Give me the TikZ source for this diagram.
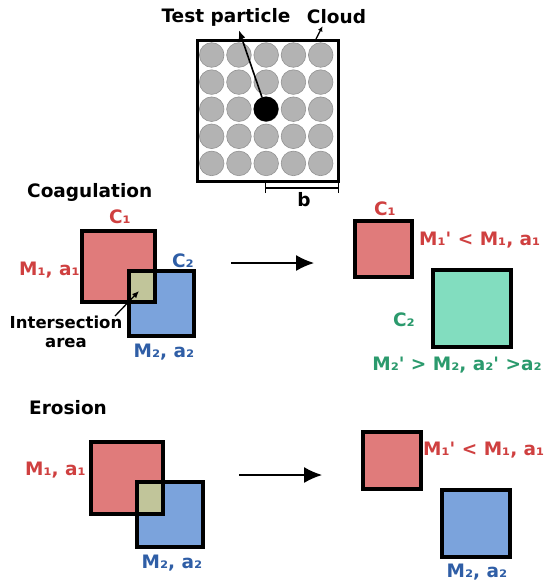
\documentclass[tikz,border=0pt]{standalone}
\usepackage{fontspec}
\newfontfamily\labfont{DejaVu Sans}
\usetikzlibrary{arrows.meta}
\definecolor{redfill}{HTML}{E07B7B}
\definecolor{redtext}{HTML}{CF4040}
\definecolor{bluefill}{HTML}{7BA3DC}
\definecolor{bluetext}{HTML}{2F5EA6}
\definecolor{greenfill}{HTML}{82DDBF}
\definecolor{greentext}{HTML}{2B9A6D}
\definecolor{olivefill}{HTML}{C1C59A}
\definecolor{dotgray}{HTML}{B3B3B3}
\tikzset{
  lbl/.style={font=\labfont\bfseries\fontsize{18.5}{20}\selectfont, inner sep=0pt},
  sqr/.style={rectangle, inner sep=0pt, outer sep=0pt},
  outline/.style={line width=3.2pt, black},
  bigarrow/.style={line width=1.3pt, -{Latex[length=18pt,width=16pt]}},
}

\begin{document}
\begin{tikzpicture}[x=1pt,y=-1pt]
    \useasboundingbox (0,0) rectangle (546,582);
    %cloud with the test particle
    \foreach \i in {0,...,4}
      \foreach \j in {0,...,4}
        \filldraw[fill=dotgray,draw=gray!85,line width=0.6pt] (211.7+27.25*\i,55+27.1*\j) circle[radius=12.3pt];
    \node[circle, fill=black, minimum size=25pt, inner sep=0pt] (part) at (266,109) {};
    \node[sqr, draw, line width=3pt, minimum width=141pt, minimum height=141pt] (cloud) at (267.5,110.5) {};
    \node[lbl] (tp) at (226,17) {Test particle};
    \node[lbl] (cl) at (336.5,17) {Cloud};
    \coordinate (ctop) at (316,39);
    \draw[line width=1.6pt, -{Latex[length=9pt,width=7pt]}] (part) -- ([xshift=13pt,yshift=-4pt]tp.south);
    \draw[line width=1.3pt, -{Latex[length=5pt,width=5pt]}] (ctop) -- ([xshift=-14pt,yshift=-2pt]cl.south);
    \coordinate (bl) at (265,188);
    \coordinate (br) at (339,188);
    \draw[line width=1.3pt, {Bar[width=10pt]}-{Bar[width=10pt]}] (bl) -- (br);
    \node[lbl] (b) at (304,200) {b};

    %coagulation
    \node[lbl, anchor=west] (coag) at (27,192) {Coagulation};
    \node[sqr, fill=redfill, minimum width=73pt, minimum height=71pt] (m1) at (118.5,266.5) {};
    \node[sqr, fill=bluefill, minimum width=65pt, minimum height=65pt] (m2) at (161.5,303.5) {};
    \fill[olivefill] (m2.north west) rectangle (m1.south east);
    \draw[outline] (m1.north west) rectangle (m1.south east);
    \draw[outline] (m2.north west) rectangle (m2.south east);
    \node[lbl, text=redtext] (c1) at (120,217) {C₁};
    \node[lbl, text=redtext, anchor=east] (ma1) at (80,270) {M₁, a₁};
    \node[lbl, text=bluetext] (c2) at (183,261) {C₂};
    \node[lbl, text=bluetext] (ma2) at (164,352) {M₂, a₂};
    \node[lbl, align=center, font=\labfont\bfseries\fontsize{16.5}{19.5}\selectfont] (inter) at (66,332) {Intersection\\area};
    \coordinate (ipt) at (139,291);
    \draw[line width=1.3pt, -{Latex[length=7pt,width=6pt]}] (115,316) coordinate (istart) -- (ipt);

    \coordinate (ca) at (231,263);
    \coordinate (cb) at (314,263);
    \draw[bigarrow] (ca) -- (cb);

    \node[sqr, fill=redfill, draw, line width=3.2pt, minimum width=57pt, minimum height=56pt] (n1) at (383.5,249) {};
    \node[sqr, fill=greenfill, draw, line width=3.2pt, minimum width=78pt, minimum height=77pt] (n2) at (472,308.5) {};
    \node[lbl, text=redtext] (nc1) at (385,209) {C₁};
    \node[lbl, text=redtext, anchor=west] (nm1) at (419,240) {M₁' < M₁, a₁};
    \node[lbl, text=greentext] (nc2) at (404,320) {C₂};
    \node[lbl, text=greentext] (nm2) at (457,365) {M₂' > M₂, a₂' >a₂};

    %erosion
    \node[lbl, anchor=west] (eros) at (29,408) {Erosion};
    \node[sqr, fill=redfill, minimum width=72pt, minimum height=72pt] (e1) at (127,478) {};
    \node[sqr, fill=bluefill, minimum width=66pt, minimum height=65pt] (e2) at (170,514.5) {};
    \fill[olivefill] (e2.north west) rectangle (e1.south east);
    \draw[outline] (e1.north west) rectangle (e1.south east);
    \draw[outline] (e2.north west) rectangle (e2.south east);
    \node[lbl, text=redtext, anchor=east] (ema1) at (86,470) {M₁, a₁};
    \node[lbl, text=bluetext] (ema2) at (172,563) {M₂, a₂};

    \coordinate (ea) at (239,475);
    \coordinate (eb) at (322,475);
    \draw[bigarrow] (ea) -- (eb);

    \node[sqr, fill=redfill, draw, line width=3.2pt, minimum width=58pt, minimum height=57pt] (f1) at (392,460.5) {};
    \node[sqr, fill=bluefill, draw, line width=3.2pt, minimum width=68pt, minimum height=67pt] (f2) at (476,523.5) {};
    \node[lbl, text=redtext, anchor=west] (fm1) at (423,450) {M₁' < M₁, a₁};
    \node[lbl, text=bluetext] (fm2) at (477,572.5) {M₂, a₂};
\end{tikzpicture}
\end{document}
